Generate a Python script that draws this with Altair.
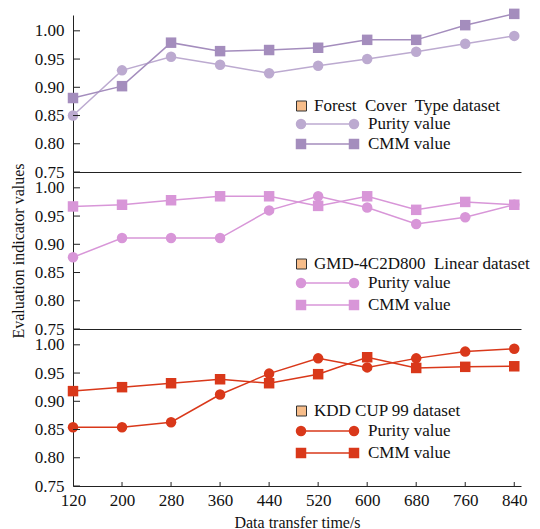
import altair as alt
import pandas as pd

SERIF = "Liberation Serif"

times = [120, 200, 280, 360, 440, 520, 600, 680, 760, 840]
forest_purity = [0.850, 0.930, 0.954, 0.940, 0.925, 0.938, 0.950, 0.963, 0.977, 0.991]
forest_cmm = [0.881, 0.902, 0.979, 0.964, 0.966, 0.970, 0.984, 0.984, 1.010, 1.030]
gmd_purity = [0.877, 0.911, 0.911, 0.911, 0.960, 0.985, 0.965, 0.936, 0.948, 0.970]
gmd_cmm = [0.967, 0.970, 0.978, 0.985, 0.985, 0.968, 0.985, 0.961, 0.975, 0.970]
kdd_purity = [0.854, 0.854, 0.863, 0.912, 0.949, 0.976, 0.960, 0.976, 0.988, 0.993]
kdd_cmm = [0.918, 0.925, 0.932, 0.939, 0.932, 0.948, 0.978, 0.959, 0.961, 0.962]
y_ticks = [0.75, 0.80, 0.85, 0.90, 0.95, 1.00]
x_ticks = times

W, H = 448, 157
xscale = alt.Scale(domain=[120, 851], nice=False, zero=False)
yscale = alt.Scale(domain=[0.75, 1.028], nice=False, zero=False)


def panel(title, purity, cmm, colors, legend_y, bottom=False, ytitle=None):
    if bottom:
        xaxis = alt.Axis(values=x_ticks, ticks=False, labelFont=SERIF, labelFontSize=17,
                         labelColor="#111", labelPadding=6, labelFlush=False, labelOverlap=False,
                         grid=False, domainColor="#222", title="Data transfer time/s",
                         titleFont=SERIF, titleFontSize=16, titleFontWeight="normal",
                         titleColor="#111", titlePadding=6)
    else:
        xaxis = alt.Axis(labels=False, ticks=False, grid=False, domainColor="#222", title=None,
                         minExtent=0, maxExtent=0, labelPadding=0)
    yaxis = alt.Axis(values=y_ticks, format=".2f", ticks=False, labelFont=SERIF,
                     labelFontSize=17, labelColor="#111", labelPadding=9, labelFlush=False,
                     labelOverlap=False, grid=False, domainColor="#222",
                     title=ytitle if ytitle else None, titleFont=SERIF, titleFontSize=16,
                     titleFontWeight="normal", titleColor="#111", titlePadding=8)
    X = alt.X("t:Q", scale=xscale, axis=xaxis)
    Y = alt.Y("v:Q", scale=yscale, axis=yaxis)

    layers = []
    for vals, shp, col in [(purity, "circle", colors[0]), (cmm, "square", colors[1])]:
        df = pd.DataFrame({"t": times, "v": vals})
        b = alt.Chart(df).encode(x=X, y=Y)
        layers.append(b.mark_line(strokeWidth=1.5, color=col))
        layers.append(b.mark_point(shape=shp, filled=True, opacity=1, size=110, color=col))

    # inward tick marks
    tdf = pd.DataFrame({"v": y_ticks})
    layers.append(alt.Chart(tdf).mark_rule(color="#222", strokeWidth=1).encode(
        y=Y, x=alt.value(0), x2=alt.value(7)))
    if bottom:
        xdf = pd.DataFrame({"t": x_ticks[1:]})
        layers.append(alt.Chart(xdf).mark_rule(color="#222", strokeWidth=1).encode(
            x=X, y=alt.value(H), y2=alt.value(H - 4)))

    one = alt.Data(values=[{"a": 1}])
    yh, yp, yc = legend_y
    layers.append(alt.Chart(one).mark_square(size=100, fill="#f7bd8a", stroke="#333",
                                             strokeWidth=1, opacity=1).encode(
        x=alt.value(228.5), y=alt.value(yh)))
    layers.append(alt.Chart(one).mark_text(align="left", baseline="middle", font=SERIF,
                                           fontSize=17, color="#111").encode(
        x=alt.value(241), y=alt.value(yh), text=alt.value(title)))
    for name, yy, shp, col in [("Purity value", yp, "circle", colors[0]),
                               ("CMM value", yc, "square", colors[1])]:
        layers.append(alt.Chart(one).mark_rule(color=col, strokeWidth=1.5).encode(
            x=alt.value(228), x2=alt.value(281), y=alt.value(yy)))
        for xx in (228, 281):
            layers.append(alt.Chart(one).mark_point(shape=shp, filled=True, opacity=1, size=110,
                                                    color=col).encode(
                x=alt.value(xx), y=alt.value(yy)))
        layers.append(alt.Chart(one).mark_text(align="left", baseline="middle", font=SERIF,
                                               fontSize=17, color="#111").encode(
            x=alt.value(295), y=alt.value(yy), text=alt.value(name)))
    return alt.layer(*layers).properties(width=W, height=H)


top = panel("Forest\u00a0 Cover\u00a0 Type dataset", forest_purity, forest_cmm,
            ["#bcaad0", "#a48dbd"], (91, 109, 129))
mid = panel("GMD-4C2D800\u00a0 Linear dataset", gmd_purity, gmd_cmm,
            ["#d896d8", "#d896d8"], (92, 111, 133), ytitle="Evaluation indicator values")
bot = panel("KDD CUP 99 dataset", kdd_purity, kdd_cmm,
            ["#d9381a", "#d9381a"], (82, 102, 124), bottom=True)

chart = alt.vconcat(top, mid, bot, spacing=0, bounds="flush").properties(
    padding={"left": 2, "top": 0, "right": 2, "bottom": 0}, background="white"
).configure_view(stroke=None)

chart.save("out.html", embed_options={"renderer": "svg", "actions": False})
